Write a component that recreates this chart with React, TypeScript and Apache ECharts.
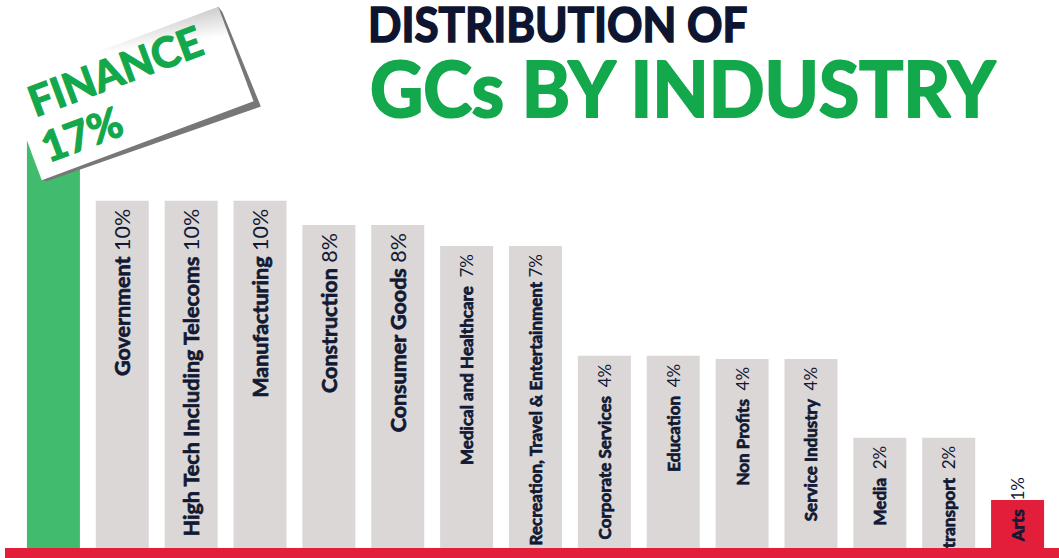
import React, { useEffect, useRef } from "react";
import * as echarts from "echarts";

// ---- data ----
const categories: string[] = [
  "Finance",
  "Government",
  "High Tech Including Telecoms",
  "Manufacturing",
  "Construction",
  "Consumer Goods",
  "Medical and Healthcare",
  "Recreation, Travel & Entertainment",
  "Corporate Services",
  "Education",
  "Non Profits",
  "Service Industry",
  "Media",
  "transport",
  "Arts",
];
const shareLabels: string[] = [
  "17%", "10%", "10%", "10%", "8%", "8%", "7%", "7%", "4%", "4%", "4%", "4%", "2%", "2%", "1%",
];
// visual bar heights as drawn in the infographic (percent of plot height)
const barHeights: number[] = [
  97.8, 77.5, 77.5, 77.5, 72.1, 72.1, 67.4, 67.4, 42.9, 42.9, 42.2, 42.2, 24.6, 24.6, 10.7,
];
const titleLine1 = "DISTRIBUTION OF";
const titleLine2 = "GCs BY INDUSTRY";

const GREEN_BAR = "#41bb6d";
const GREEN_TEXT = "#12a84b";
const RED = "#e21e3b";
const GRAY = "#dbd7d7";
const NAVY = "#111933";

export default function App() {
  const ref = useRef<HTMLDivElement>(null);

  useEffect(() => {
    document.body.style.margin = "0";
    if (!ref.current) return;
    const chart = echarts.init(ref.current, undefined, { renderer: "svg" });
    const last = categories.length - 1;

    const data = barHeights.map((v, i) => {
      const color = i === 0 ? GREEN_BAR : i === last ? RED : GRAY;
      const item: any = { value: v, itemStyle: { color } };
      if (i === 0) item.label = { show: false };
      if (i === last) item.label = { distance: -23 };
      return item;
    });

    const tagRot = (20.5 * Math.PI) / 180;
    const nameStyle = (size: number) => ({
      fontFamily: "Lato",
      fontWeight: "bold",
      fontSize: size,
      color: NAVY,
      textBorderColor: NAVY,
      textBorderWidth: 0.7,
    });
    const pctStyle = (size: number) => ({
      fontFamily: "Lato",
      fontWeight: "normal",
      fontSize: size,
      color: NAVY,
    });

    chart.setOption({
      animation: false,
      grid: { left: 19, right: 7, top: 100, bottom: 10 },
      xAxis: {
        type: "category",
        data: categories,
        show: false,
      },
      yAxis: { type: "value", min: 0, max: 100, show: false },
      series: [
        {
          type: "bar",
          data,
          barWidth: 53,
          label: {
            show: true,
            position: "insideTop",
            distance: 8,
            rotate: 90,
            align: "right",
            verticalAlign: "middle",
            formatter: (p: any) => {
              const i = p.dataIndex;
              const gap = i >= 6 && i !== 7 ? "  " : " ";
              const key = i < 6 ? "a" : "b";
              return `{${key}n|${categories[i]}}{${key}p|${gap}${shareLabels[i]}}`;
            },
            rich: {
              an: nameStyle(21.5),
              ap: pctStyle(21.5),
              bn: nameStyle(17),
              bp: pctStyle(17),
            },
          },
        },
      ],
      graphic: [
        {
          type: "rect",
          z: 100,
          shape: { x: 5, y: 548, width: 1054, height: 10 },
          style: { fill: RED },
        },
        {
          type: "text",
          z: 100,
          x: 368,
          y: 23.5,
          scaleX: 0.935,
          style: {
            text: titleLine1,
            fontFamily: "Lato",
            fontWeight: "bold",
            fontSize: 47,
            lineHeight: 40,
            fill: "#0e1530",
            stroke: "#0e1530",
            lineWidth: 1.6,
            verticalAlign: "middle",
            align: "left",
          },
        },
        {
          type: "text",
          z: 100,
          x: 370,
          y: 87,
          scaleX: 0.965,
          style: {
            text: titleLine2,
            fontFamily: "Lato",
            fontWeight: "bold",
            fontSize: 76,
            lineHeight: 62,
            fill: GREEN_TEXT,
            stroke: GREEN_TEXT,
            lineWidth: 2.2,
            verticalAlign: "middle",
            align: "left",
          },
        },
        {
          type: "group",
          x: 130,
          y: 93.5,
          rotation: tagRot,
          children: [
            {
              type: "polygon",
              z: 100,
              shape: {
                points: [
                  [113, -50.5],
                  [115, -44],
                  [118, 58],
                  [-108, 53],
                  [-113, 50.5],
                ],
              },
              style: { fill: "#777777" },
            },
            {
              type: "rect",
              z: 101,
              shape: { x: -113, y: -50.5, width: 226, height: 101 },
              style: {
                fill: new echarts.graphic.LinearGradient(1, 0, 0.78, 0.45, [
                  { offset: 0, color: "#cccccc" },
                  { offset: 0.55, color: "#ffffff" },
                  { offset: 1, color: "#ffffff" },
                ]),
              },
            },
            {
              type: "text",
              z: 102,
              x: -97,
              y: -27,
              style: {
                text: categories[0].toUpperCase(),
                fontFamily: "Lato",
                fontWeight: "bold",
                fontSize: 42,
                fill: GREEN_TEXT,
                stroke: GREEN_TEXT,
                lineWidth: 1.3,
                verticalAlign: "middle",
                align: "left",
              },
            },
            {
              type: "text",
              z: 102,
              x: -101,
              y: 20.5,
              style: {
                text: shareLabels[0],
                fontFamily: "Lato",
                fontWeight: "bold",
                fontSize: 42,
                fill: GREEN_TEXT,
                stroke: GREEN_TEXT,
                lineWidth: 1.3,
                verticalAlign: "middle",
                align: "left",
              },
            },
          ],
        },
      ],
    });

    return () => chart.dispose();
  }, []);

  return <div ref={ref} style={{ width: 1059, height: 558 }} />;
}
